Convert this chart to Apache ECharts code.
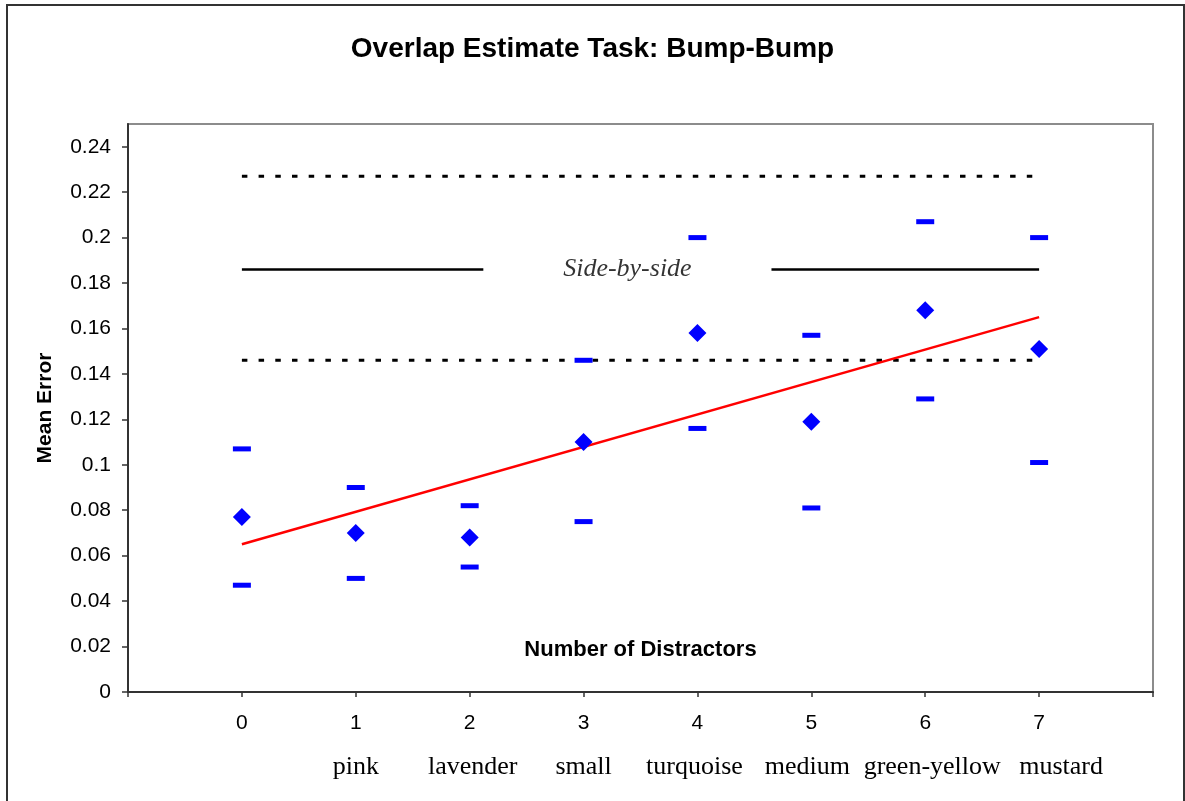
<!DOCTYPE html>
<html>
<head>
<meta charset="utf-8">
<script src="https://cdn.jsdelivr.net/npm/echarts@6/dist/echarts.min.js"></script>
<style>
  html, body { margin: 0; padding: 0; background: #fff; }
  #chart { width: 1185px; height: 801px; }
</style>
</head>
<body>
<div id="chart"></div>
<script>
// ---- data ----
const xTicks = [0, 1, 2, 3, 4, 5, 6, 7];
const colorNames = ['', 'pink', 'lavender', 'small', 'turquoise', 'medium', 'green-yellow', 'mustard'];
const meanError = [0.077, 0.070, 0.068, 0.110, 0.158, 0.119, 0.168, 0.151];
const upperBound = [0.107, 0.090, 0.082, 0.146, 0.200, 0.157, 0.207, 0.200];
const lowerBound = [0.047, 0.050, 0.055, 0.075, 0.116, 0.081, 0.129, 0.101];
const trendX = [0, 7];
const trendY = [0.065, 0.165];
const sideBySideMean = 0.186;
const sideBySideUpper = 0.227;
const sideBySideLower = 0.146;
const sideBySideGap = [2.12, 4.65];
const sideBySideLabelX = 3.385;
const yTicks = [0, 0.02, 0.04, 0.06, 0.08, 0.1, 0.12, 0.14, 0.16, 0.18, 0.2, 0.22, 0.24];

const chart = echarts.init(document.getElementById('chart'), null, { renderer: 'canvas' });

const pts = arr => xTicks.map((x, i) => [x, arr[i]]);
const xFirst = xTicks[0], xLast = xTicks[xTicks.length - 1];

// per-label nudges of the colour-name labels (style only)
const nameRich = {
  n0: {}, n1: {}, n2: { padding: [0, 0, 0, 6] }, n3: {}, n4: { padding: [0, 6, 0, 0] },
  n5: { padding: [0, 8, 0, 0] }, n6: { padding: [0, 0, 0, 14] }, n7: { padding: [0, 0, 0, 44] }
};
const serif = 'Liberation Serif, Times New Roman';
Object.keys(nameRich).forEach(k => {
  Object.assign(nameRich[k], { fontFamily: serif, fontSize: 26, color: '#000' });
});

const option = {
  animation: false,
  backgroundColor: '#fff',
  title: {
    text: 'Overlap Estimate Task: Bump-Bump',
    left: 'center',
    top: 30,
    textStyle: { fontFamily: 'Liberation Sans, Arial', fontWeight: 'bold', fontSize: 28, color: '#000' }
  },
  graphic: [{
    type: 'rect',
    shape: { x: 7, y: 5, width: 1177, height: 900 },
    style: { fill: 'none', stroke: '#333', lineWidth: 2 },
    z: -1
  }],
  grid: {
    left: 128, top: 124, right: 32, bottom: 109,
    show: true, borderColor: '#8c8c8c', borderWidth: 2, backgroundColor: 'transparent'
  },
  xAxis: [{
    type: 'value', min: -1, max: 8, interval: 1,
    name: 'Number of Distractors', nameLocation: 'middle', nameGap: -53,
    nameTextStyle: { fontFamily: 'Liberation Sans, Arial', fontWeight: 'bold', fontSize: 22, color: '#000' },
    axisLine: { show: true, onZero: false, lineStyle: { color: '#333', width: 2 } },
    axisTick: { show: true, length: 5, lineStyle: { color: '#333', width: 1.5 } },
    splitLine: { show: false },
    axisLabel: {
      margin: 21, fontFamily: 'Liberation Sans, Arial', fontSize: 21, color: '#000',
      formatter: v => (xTicks.indexOf(v) >= 0 ? String(v) : '')
    }
  }, {
    type: 'value', min: -1, max: 8, interval: 1, position: 'bottom',
    axisLine: { show: false, onZero: false }, axisTick: { show: false }, splitLine: { show: false },
    axisLabel: {
      margin: 62, fontFamily: serif, fontSize: 26, color: '#000',
      formatter: v => (xTicks.indexOf(v) >= 0 && colorNames[v] ? '{n' + v + '|' + colorNames[v] + '}' : ''),
      rich: nameRich
    }
  }],
  yAxis: {
    type: 'value', min: 0, max: 0.25,
    name: 'Mean Error', nameLocation: 'middle', nameRotate: 90, nameGap: 72,
    nameTextStyle: { fontFamily: 'Liberation Sans, Arial', fontWeight: 'bold', fontSize: 21, color: '#000' },
    axisLine: { show: true, onZero: false, lineStyle: { color: '#333', width: 2 } },
    axisTick: { show: true, length: 6, customValues: yTicks, lineStyle: { color: '#333', width: 1.5 } },
    splitLine: { show: false },
    axisLabel: {
      customValues: yTicks, margin: 17, fontFamily: 'Liberation Sans, Arial', fontSize: 21, color: '#000',
      formatter: v => String(+v.toFixed(2))
    }
  },
  series: [
    {
      type: 'line', data: [[xFirst, sideBySideUpper], [xLast, sideBySideUpper]],
      symbol: 'none', lineStyle: { color: '#000', width: 3, type: [5.5, 11.2], cap: 'butt' }, z: 2
    },
    {
      type: 'line', data: [[xFirst, sideBySideLower], [xLast, sideBySideLower]],
      symbol: 'none', lineStyle: { color: '#000', width: 3, type: [5.5, 11.2], cap: 'butt' }, z: 2
    },
    {
      type: 'line', connectNulls: false,
      data: [[xFirst, sideBySideMean], [sideBySideGap[0], sideBySideMean], '-', [sideBySideGap[1], sideBySideMean], [xLast, sideBySideMean]],
      symbol: 'none', lineStyle: { color: '#000', width: 2.5 }, z: 2
    },
    {
      type: 'scatter', data: [[sideBySideLabelX, sideBySideMean]], symbolSize: 1,
      itemStyle: { color: 'rgba(0,0,0,0)' },
      label: {
        show: true, position: 'inside', formatter: 'Side-by-side',
        fontFamily: serif, fontStyle: 'italic', fontSize: 26, color: '#000'
      }, z: 3
    },
    {
      type: 'line', data: trendX.map((x, i) => [x, trendY[i]]),
      symbol: 'none', lineStyle: { color: '#ff0000', width: 2.5 }, z: 3
    },
    {
      type: 'scatter', data: pts(upperBound), symbol: 'rect', symbolSize: [18, 5],
      itemStyle: { color: '#0000ff', opacity: 1 }, z: 4
    },
    {
      type: 'scatter', data: pts(lowerBound), symbol: 'rect', symbolSize: [18, 5],
      itemStyle: { color: '#0000ff', opacity: 1 }, z: 4
    },
    {
      type: 'scatter', data: pts(meanError), symbol: 'diamond', symbolSize: 18,
      itemStyle: { color: '#0000ff', opacity: 1 }, z: 5
    }
  ]
};
chart.setOption(option);
</script>
</body>
</html>
